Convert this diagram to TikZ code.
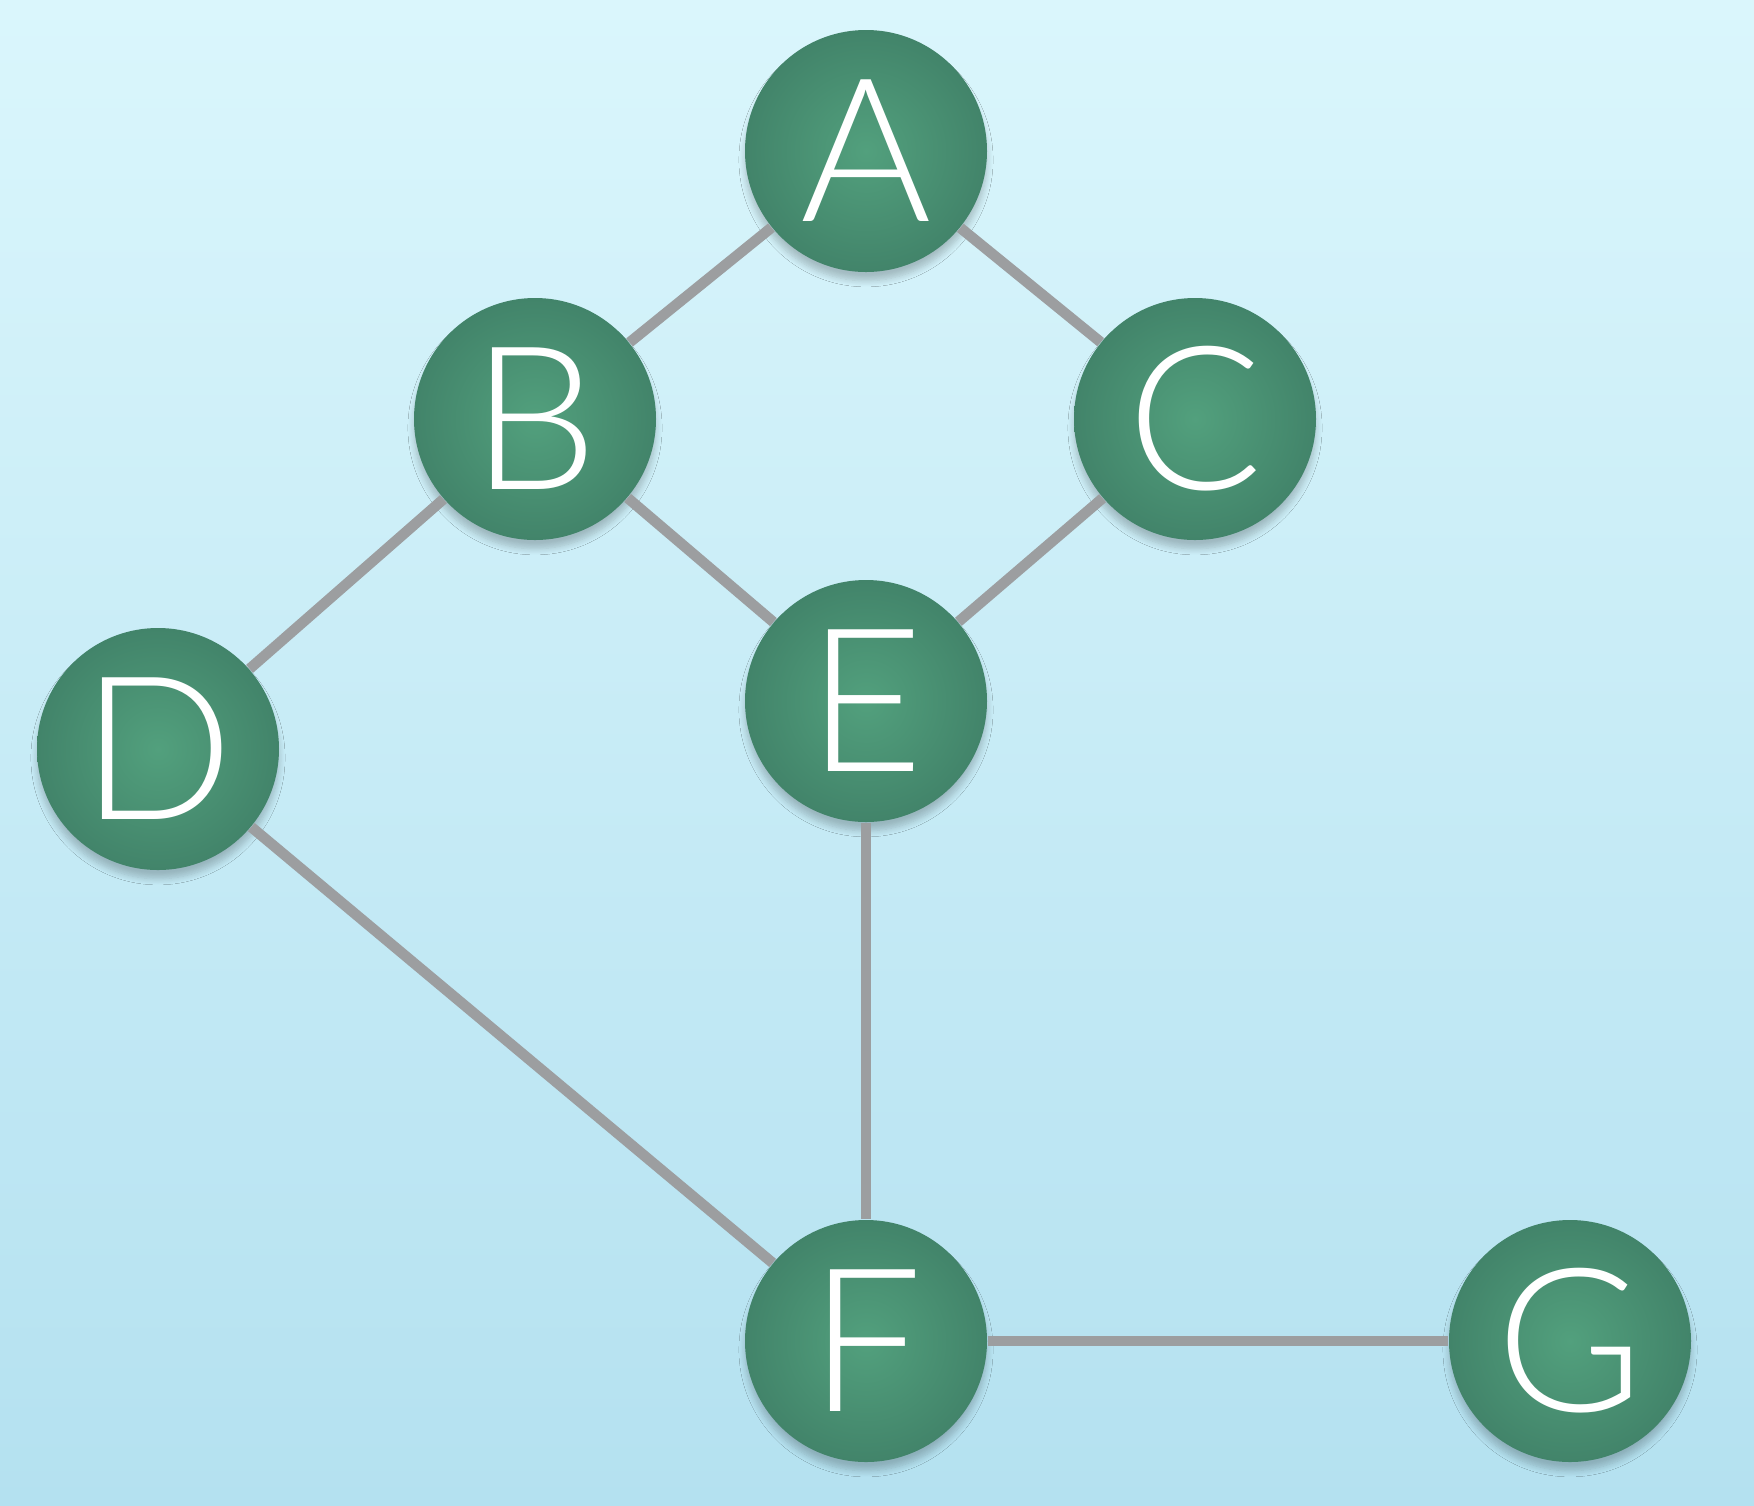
\documentclass[tikz,border=0pt]{standalone}
\usepackage{fontspec}
\newfontfamily\lblfont{Lato}[UprightFont=* Light]
\usetikzlibrary{shadows.blur}
\definecolor{bgtop}{HTML}{DAF6FC}
\definecolor{bgbot}{HTML}{B4E1F0}
\definecolor{nin}{HTML}{52A07D}
\definecolor{nout}{HTML}{42846A}
\definecolor{edgec}{HTML}{9C9EA0}
\tikzset{
  vtx/.style={circle, minimum size=2.42cm, inner sep=0pt, shading=radial,
    inner color=nin, outer color=nout, text=white,
    font=\lblfont\fontsize{57}{57}\selectfont,
    blur shadow={shadow blur steps=8, shadow xshift=0pt, shadow yshift=-2.5pt, shadow opacity=22}},
  edge/.style={draw=edgec, line width=3pt}
}
\begin{document}
\begin{tikzpicture}[x=1cm,y=1cm]
\useasboundingbox (0,0) rectangle (17.54,-15.06);
\shade[top color=bgtop, bottom color=bgbot] (0,0) rectangle (17.54,-15.06);
\node[vtx] (A) at (8.66,-1.51) {A};
\node[vtx] (B) at (5.35,-4.19) {B};
\node[vtx] (C) at (11.95,-4.19) {C};
\node[vtx] (D) at (1.58,-7.49) {D};
\node[vtx] (E) at (8.66,-7.01) {E};
\node[vtx] (F) at (8.66,-13.41) {F};
\node[vtx] (G) at (15.70,-13.41) {G};
\draw[edge] (A) -- (B);
\draw[edge] (A) -- (C);
\draw[edge] (B) -- (E);
\draw[edge] (C) -- (E);
\draw[edge] (B) -- (D);
\draw[edge] (D) -- (F);
\draw[edge] (E) -- (F);
\draw[edge] (F) -- (G);
\end{tikzpicture}
\end{document}
